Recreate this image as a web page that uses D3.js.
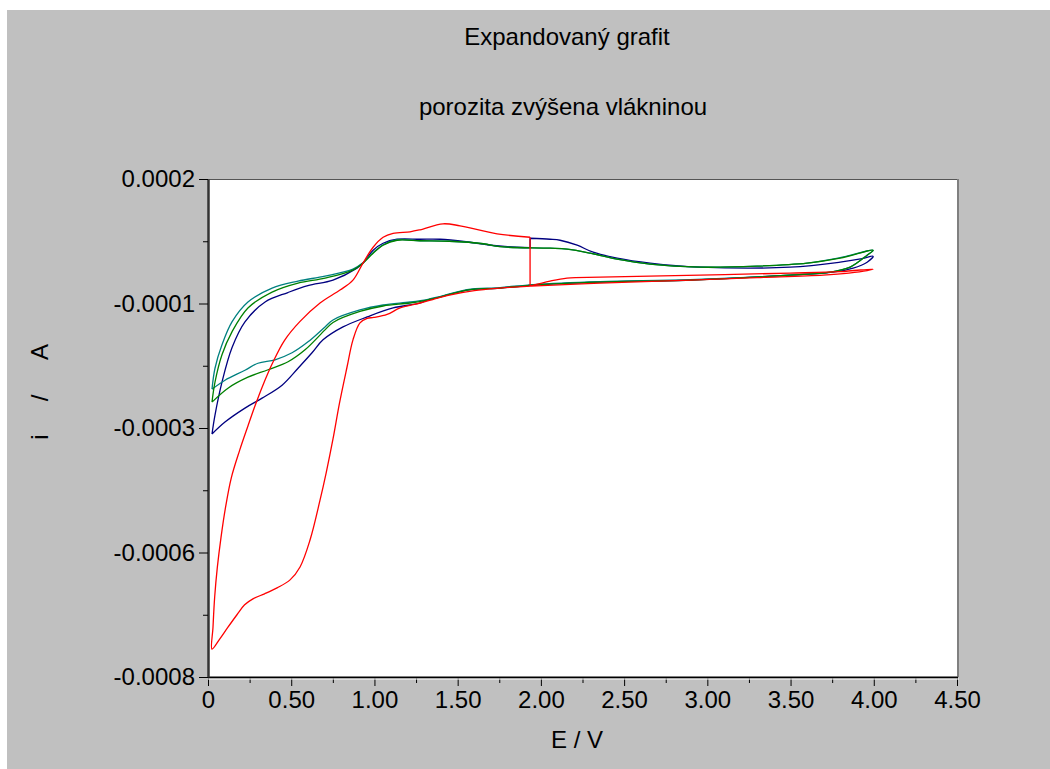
<!DOCTYPE html>
<html>
<head>
<meta charset="utf-8">
<script src="https://cdn.jsdelivr.net/npm/d3@7"></script>
<style>
    body { margin: 0; background: #ffffff; }
    text { font-family: "Liberation Sans", Arial, sans-serif; fill: #000; }
</style>
</head>
<body>
<div id="elements"></div>
<script>
// chart texts
var titleLines = ["Expandovaný grafit", "porozita zvýšena vlákninou"];
var xLabel = "E / V";
var yLabelParts = ["i", "/", "A"];

// axis ticks (current in microamps, labels as printed on the original)
var xTickValues = [0, 0.5, 1, 1.5, 2, 2.5, 3, 3.5, 4, 4.5];
var xTickLabels = ["0", "0.50", "1.00", "1.50", "2.00", "2.50", "3.00", "3.50", "4.00", "4.50"];
var xMinorTicks = [0.25, 0.75, 1.25, 1.75, 2.25, 2.75, 3.25, 3.75, 4.25];
var yTickValues = [200, -50, -300, -550, -800];
var yTickLabels = ["0.0002", "-0.0001", "-0.0003", "-0.0006", "-0.0008"];
var yMinorTicks = [75, -175, -425, -675];

// cyclic voltammograms: [E in V, i in uA]
// two points with the same E mark a jump in the record (drawn straight)
var cycleRed = [
    [1.935, -15], [2.055, -5], [2.157, 1], [2.356, 3], [2.957, 7], [3.498, 11], [3.8, 14], [3.996, 19],
    [3.96, 16], [3.85, 11], [3.696, 7], [3.3, 2], [2.897, -3], [2.356, -9], [1.94, -15], [1.755, -19],
    [1.6, -24], [1.45, -33], [1.35, -42], [1.274, -49], [1.154, -59], [1.076, -72], [0.996, -78],
    [0.956, -80], [0.913, -89], [0.871, -123], [0.835, -178], [0.79, -250], [0.751, -322], [0.71, -390],
    [0.673, -445], [0.613, -525], [0.553, -579], [0.493, -605], [0.415, -621], [0.34, -633],
    [0.27, -643], [0.22, -655], [0.174, -675], [0.12, -700], [0.07, -724], [0.024, -744],
    [0.03, -700], [0.04, -640], [0.056, -580], [0.078, -520], [0.105, -460], [0.14, -400], [0.19, -345],
    [0.24, -296], [0.282, -256], [0.33, -214], [0.39, -168], [0.46, -124], [0.553, -86], [0.673, -49],
    [0.793, -23], [0.871, -3], [0.931, 31], [0.992, 63], [1.052, 83], [1.112, 91], [1.214, 94],
    [1.274, 98], [1.412, 110], [1.514, 106], [1.737, 90], [1.935, 83], [1.935, -15]
];
var cycleBlue = [
    [0.024, -312], [0.042, -274], [0.084, -208], [0.144, -139], [0.222, -87], [0.343, -47], [0.48, -28],
    [0.6, -14], [0.751, -3], [0.895, 21], [0.931, 31], [0.992, 57], [1.052, 71], [1.136, 79], [1.274, 79],
    [1.394, 79], [1.55, 74], [1.7, 67], [1.8, 64], [1.935, 62], [1.935, 81], [2.055, 79], [2.115, 77],
    [2.218, 67], [2.314, 53], [2.458, 41], [2.656, 31], [2.957, 23], [3.498, 23], [3.798, 33], [3.93, 40],
    [3.996, 45],
    [3.96, 33], [3.876, 21], [3.756, 13], [3.498, 7], [2.897, -3], [2.356, -7], [1.955, -13], [1.755, -19],
    [1.556, -23], [1.394, -37], [1.316, -43], [1.274, -49], [1.112, -59], [0.956, -77], [0.811, -97],
    [0.691, -123], [0.625, -149], [0.541, -180], [0.445, -214], [0.325, -240], [0.222, -260],
    [0.102, -288], [0.024, -312]
];
var cycleTeal = [
    [0.024, -222], [0.042, -180], [0.084, -133], [0.144, -87], [0.24, -47], [0.385, -19], [0.541, -5],
    [0.703, 5], [0.871, 19], [0.931, 32], [0.992, 52], [1.052, 68], [1.136, 78], [1.274, 76], [1.45, 75],
    [1.653, 70], [1.755, 64], [2.055, 61], [2.157, 59], [2.296, 51], [2.458, 39], [2.656, 29], [2.957, 23],
    [3.299, 25], [3.6, 31], [3.798, 42], [3.996, 57],
    [3.96, 47], [3.858, 23], [3.738, 13], [3.498, 7], [2.897, -2], [2.356, -6], [1.955, -12], [1.755, -18],
    [1.556, -22], [1.394, -36], [1.316, -42], [1.214, -47], [1.052, -53], [0.913, -63], [0.751, -83],
    [0.703, -97], [0.601, -127], [0.505, -149], [0.403, -163], [0.3, -170], [0.222, -184], [0.102, -204],
    [0.024, -222]
];
var cycleGreen = [
    [0.024, -248], [0.042, -208], [0.084, -153], [0.144, -107], [0.24, -59], [0.385, -27], [0.541, -9],
    [0.703, 1], [0.871, 17], [0.931, 31], [0.992, 51], [1.052, 67], [1.136, 77], [1.274, 76], [1.45, 75],
    [1.653, 70], [1.755, 64], [2.055, 61], [2.157, 59], [2.296, 51], [2.458, 39], [2.656, 29], [2.957, 23],
    [3.299, 25], [3.6, 31], [3.798, 41], [3.996, 57],
    [3.96, 47], [3.858, 23], [3.738, 13], [3.498, 7], [2.897, -3], [2.356, -7], [1.955, -13], [1.755, -19],
    [1.556, -23], [1.394, -37], [1.316, -43], [1.214, -49], [1.052, -55], [0.913, -66], [0.751, -88],
    [0.703, -103], [0.583, -143], [0.481, -167], [0.361, -183], [0.24, -198], [0.12, -220], [0.024, -248]
];

var seriesList = [
    { name: "blue", color: "#000080", values: cycleBlue },
    { name: "teal", color: "#008080", values: cycleTeal },
    { name: "green", color: "#008000", values: cycleGreen },
    { name: "red", color: "#ff0000", values: cycleRed }
];

var W = 1050, H = 769;
var plot = { left: 208, right: 957, top: 179, bottom: 677 };
var fontSize = 24;

var svg = d3.select("#elements").append("svg")
    .attr("width", W)
    .attr("height", H);

// gray window background
svg.append("rect")
    .attr("x", 7).attr("y", 10)
    .attr("width", W - 7).attr("height", H - 10)
    .attr("fill", "#c0c0c0");

// titles
var titleX = [567, 563];
svg.selectAll("text.title")
    .data(titleLines)
    .join("text")
    .attr("class", "title")
    .attr("x", function (d, i) { return titleX[i]; })
    .attr("y", function (d, i) { return 45 + i * 70; })
    .attr("text-anchor", "middle")
    .style("font-size", fontSize + "px")
    .text(function (d) { return d; });

var x = d3.scaleLinear().domain([0, 4.5]).range([plot.left, plot.right]);
var y = d3.scaleLinear().domain([-800, 200]).range([plot.bottom, plot.top]);

// plot area
svg.append("rect")
    .attr("x", plot.left).attr("y", plot.top)
    .attr("width", plot.right - plot.left).attr("height", plot.bottom - plot.top)
    .attr("fill", "#ffffff");

// clip for the curves
svg.append("clipPath").attr("id", "clip")
    .append("rect")
    .attr("x", plot.left).attr("y", plot.top)
    .attr("width", plot.right - plot.left).attr("height", plot.bottom - plot.top);

var smooth = d3.line()
    .x(function (d) { return x(d[0]); })
    .y(function (d) { return y(d[1]); })
    .curve(d3.curveCatmullRom.alpha(0.5));
var straight = d3.line()
    .x(function (d) { return x(d[0]); })
    .y(function (d) { return y(d[1]); });

// split a record at its jumps: smooth pieces, straight jumps
function recordPath(values) {
    var parts = [], piece = [values[0]];
    for (var i = 1; i < values.length; i++) {
        if (values[i][0] === values[i - 1][0]) {
            parts.push(smooth(piece));
            parts.push(straight([values[i - 1], values[i]]));
            piece = [values[i]];
        } else {
            piece.push(values[i]);
        }
    }
    if (piece.length > 1) parts.push(smooth(piece));
    return parts.join("");
}

svg.append("g")
    .attr("clip-path", "url(#clip)")
    .selectAll("path")
    .data(seriesList)
    .join("path")
    .attr("d", function (d) { return recordPath(d.values); })
    .attr("fill", "none")
    .attr("stroke", function (d) { return d.color; })
    .attr("stroke-width", 1.3);

// frame: top and right borders
svg.append("line")
    .attr("x1", plot.left).attr("x2", plot.right)
    .attr("y1", plot.top + 0.5).attr("y2", plot.top + 0.5)
    .attr("stroke", "#555").attr("stroke-width", 1);
svg.append("line")
    .attr("x1", plot.right + 1).attr("x2", plot.right + 1)
    .attr("y1", plot.top).attr("y2", plot.bottom)
    .attr("stroke", "#808080").attr("stroke-width", 2);

// x axis
var xAxis = svg.append("g")
    .attr("transform", "translate(0," + plot.bottom + ")")
    .call(d3.axisBottom(x)
        .tickValues(xTickValues)
        .tickFormat(function (d, i) { return xTickLabels[i]; })
        .tickSize(9)
        .tickSizeOuter(0)
        .tickPadding(5));
svg.append("g")
    .attr("transform", "translate(0," + plot.bottom + ")")
    .call(d3.axisBottom(x).tickValues(xMinorTicks).tickFormat("").tickSize(6).tickSizeOuter(0))
    .select(".domain").remove();

// y axis
var yAxis = svg.append("g")
    .attr("transform", "translate(" + plot.left + ",0)")
    .call(d3.axisLeft(y)
        .tickValues(yTickValues)
        .tickFormat(function (d, i) { return yTickLabels[i]; })
        .tickSize(9)
        .tickSizeOuter(0)
        .tickPadding(4));
svg.append("g")
    .attr("transform", "translate(" + plot.left + ",0)")
    .call(d3.axisLeft(y).tickValues(yMinorTicks).tickFormat("").tickSize(5).tickSizeOuter(0))
    .select(".domain").remove();

svg.selectAll(".tick text")
    .style("font-size", fontSize + "px")
    .style("font-family", "'Liberation Sans', Arial, sans-serif");
svg.selectAll(".tick line").attr("stroke", "#000");
xAxis.select(".domain").attr("stroke", "#000").attr("stroke-width", 2);
yAxis.select(".domain").attr("stroke", "#333").attr("stroke-width", 2.5);

// white highlight under the x axis
svg.append("line")
    .attr("x1", plot.left).attr("x2", plot.right + 2)
    .attr("y1", plot.bottom + 2).attr("y2", plot.bottom + 2)
    .attr("stroke", "#ffffff").attr("stroke-width", 1);

// axis titles
svg.append("text")
    .attr("x", 577)
    .attr("y", 748)
    .attr("text-anchor", "middle")
    .style("font-size", fontSize + "px")
    .text(xLabel);

var yLabelPos = [437, 398, 352];
svg.selectAll("text.ylab")
    .data(yLabelParts)
    .join("text")
    .attr("class", "ylab")
    .attr("text-anchor", "middle")
    .attr("transform", function (d, i) { return "translate(48," + yLabelPos[i] + ") rotate(-90)"; })
    .style("font-size", fontSize + "px")
    .text(function (d) { return d; });
</script>
</body>
</html>
